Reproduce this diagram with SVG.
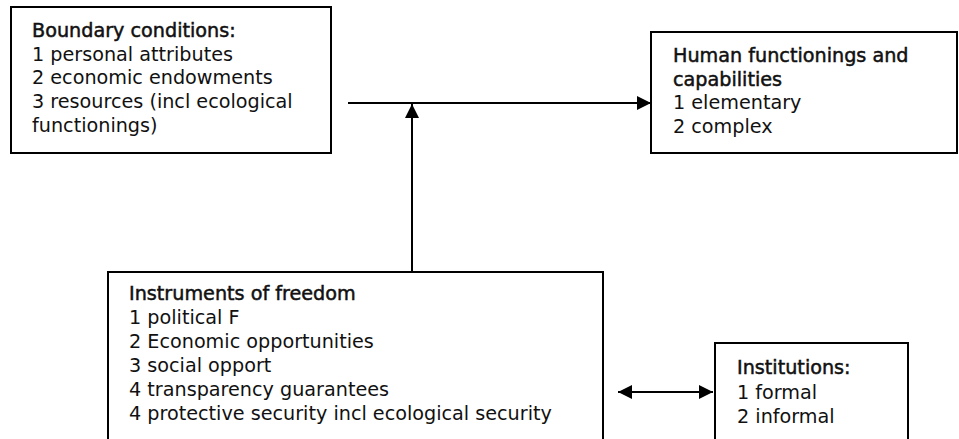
<svg xmlns="http://www.w3.org/2000/svg" width="959" height="439" viewBox="0 0 959 439">
  <defs>
    <style>
      .box { fill: #ffffff; stroke: #000000; stroke-width: 2; }
      .txt { font-family: "DejaVu Sans", Verdana, sans-serif; font-size: 19.2px; fill: #111111; }
      .hd { stroke: #111111; stroke-width: 0.5; }
      .conn { stroke: #000000; stroke-width: 2; fill: none; }
    </style>
    <marker id="arrow" viewBox="0 0 10 10" refX="10" refY="5" markerUnits="userSpaceOnUse" markerWidth="15" markerHeight="14" orient="auto-start-reverse">
      <path d="M0,0 L10,5 L0,10 Z" fill="#000000"/>
    </marker>
  </defs>
  <rect width="959" height="439" fill="#ffffff"/>

  <g id="boundary-conditions">
    <rect class="box" x="11" y="7" width="320" height="146"/>
    <text class="txt" x="32" y="37"><tspan class="hd">Boundary conditions:</tspan>
      <tspan x="32" dy="23.7">1 personal attributes</tspan>
      <tspan x="32" dy="23.7">2 economic endowments</tspan>
      <tspan x="32" dy="23.7">3 resources (incl ecological</tspan>
      <tspan x="32" dy="23.7">functionings)</tspan>
    </text>
  </g>

  <g id="human-functionings">
    <rect class="box" x="651" y="32" width="306" height="121"/>
    <text class="txt" x="673" y="62"><tspan class="hd">Human functionings and</tspan>
      <tspan class="hd" x="673" dy="23.7">capabilities</tspan>
      <tspan x="673" dy="23.7">1 elementary</tspan>
      <tspan x="673" dy="23.7">2 complex</tspan>
    </text>
  </g>

  <g id="instruments-of-freedom">
    <rect class="box" x="108" y="272" width="495" height="180"/>
    <text class="txt" x="129" y="300"><tspan class="hd">Instruments of freedom</tspan>
      <tspan x="129" dy="24">1 political F</tspan>
      <tspan x="129" dy="24">2 Economic opportunities</tspan>
      <tspan x="129" dy="24">3 social opport</tspan>
      <tspan x="129" dy="24">4 transparency guarantees</tspan>
      <tspan x="129" dy="24">4 protective security incl ecological security</tspan>
    </text>
  </g>

  <g id="institutions">
    <rect class="box" x="715" y="343" width="193" height="110"/>
    <text class="txt" x="737" y="374"><tspan class="hd">Institutions:</tspan>
      <tspan x="737" dy="24.5">1 formal</tspan>
      <tspan x="737" dy="24.5">2 informal</tspan>
    </text>
  </g>

  <g id="connectors">
    <line class="conn" x1="348" y1="103" x2="651" y2="103" marker-end="url(#arrow)"/>
    <line class="conn" x1="412" y1="272" x2="412" y2="104" marker-end="url(#arrow)"/>
    <line class="conn" x1="618" y1="392" x2="713" y2="392" marker-start="url(#arrow)" marker-end="url(#arrow)"/>
  </g>
</svg>
